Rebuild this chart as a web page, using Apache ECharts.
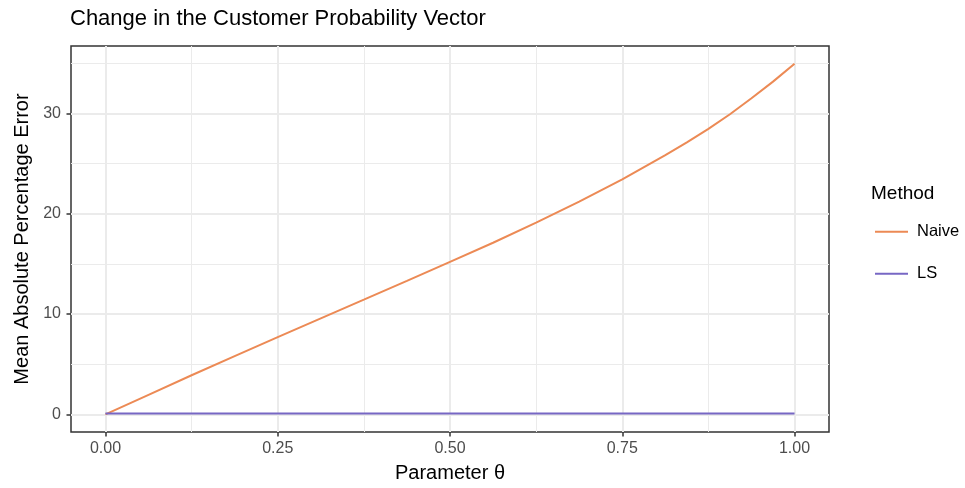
<!DOCTYPE html>
<html>
<head>
<meta charset="utf-8">
<script src="https://cdn.jsdelivr.net/npm/echarts@6/dist/echarts.min.js"></script>
<style>html,body{margin:0;padding:0;background:#fff}#c{width:965px;height:488px}</style>
</head>
<body>
<div id="c"></div>
<script>
const theta = [0, 0.0625, 0.125, 0.1875, 0.25, 0.3125, 0.375, 0.4375, 0.5, 0.5625, 0.625, 0.6875, 0.75, 0.8125, 0.84375, 0.875, 0.90625, 0.9375, 0.96875, 1.0];
const naive = [0, 1.95, 3.9, 5.8, 7.7, 9.57, 11.43, 13.3, 15.2, 17.1, 19.1, 21.2, 23.42, 25.82, 27.1, 28.44, 29.9, 31.5, 33.15, 34.94];
const ls = [0.1, 0.1, 0.1, 0.1, 0.1, 0.1, 0.1, 0.1, 0.1, 0.1, 0.1, 0.1, 0.1, 0.1, 0.1, 0.1, 0.1, 0.1, 0.1, 0.1];
const xTicks = [0, 0.25, 0.5, 0.75, 1.0];
const xMinor = [0.125, 0.375, 0.625, 0.875];
const yTicks = [0, 10, 20, 30];
const yMinor = [5, 15, 25, 35];
const seriesNames = ['Naive', 'LS'];
const colors = ['#EC8A55', '#7767C4'];

const FONT = 'Liberation Sans, Arial, sans-serif';
const xr = [-0.05, 1.05];
const yr = [-1.75, 36.7];

const chart = echarts.init(document.getElementById('c'), null, {renderer: 'canvas'});
const pair = (xs, ys) => xs.map((x, i) => [x, ys[i]]);

chart.setOption({
  backgroundColor: '#ffffff',
  animation: false,
  textStyle: {fontFamily: FONT},
  title: [
    {text: 'Change in the Customer Probability Vector', left: 70, top: 8, padding: 0,
     textStyle: {fontSize: 22, fontWeight: 'normal', color: '#000', fontFamily: FONT}},
    {text: 'Method', left: 871, top: 184.5, padding: 0,
     textStyle: {fontSize: 19, fontWeight: 'normal', color: '#000', fontFamily: FONT}}
  ],
  legend: {
    orient: 'vertical', left: 875, top: 223.2, padding: 0,
    icon: 'rect', itemWidth: 33, itemHeight: 2, itemGap: 25,
    data: seriesNames,
    textStyle: {fontSize: 16.5, color: '#000', fontFamily: FONT, padding: [0, 0, 0, 4]}
  },
  grid: {left: 71, right: 136, top: 46, bottom: 54, show: true,
         borderColor: '#333333', borderWidth: 1.5, backgroundColor: '#fff', containLabel: false},
  xAxis: [
    {type: 'value', min: xr[0], max: xr[1], position: 'top',
     axisLine: {show: false, onZero: false}, axisLabel: {show: false},
     axisTick: {show: false, customValues: xMinor},
     splitLine: {show: true, lineStyle: {color: '#EBEBEB', width: 1}}},
    {type: 'value', min: xr[0], max: xr[1], position: 'bottom',
     axisLine: {show: false, onZero: false},
     axisTick: {show: true, inside: false, length: 4.5, customValues: xTicks, lineStyle: {color: '#333', width: 1.5}},
     axisLabel: {customValues: xTicks, formatter: v => v.toFixed(2), margin: 9, fontSize: 16, color: '#4D4D4D', fontFamily: FONT},
     splitLine: {show: true, lineStyle: {color: '#EBEBEB', width: 2}},
     name: 'Parameter θ', nameLocation: 'middle', nameGap: 31,
     nameTextStyle: {fontSize: 20, color: '#000', fontFamily: FONT}}
  ],
  yAxis: [
    {type: 'value', min: yr[0], max: yr[1], position: 'right',
     axisLine: {show: false, onZero: false}, axisLabel: {show: false},
     axisTick: {show: false, customValues: yMinor},
     splitLine: {show: true, lineStyle: {color: '#EBEBEB', width: 1}}},
    {type: 'value', min: yr[0], max: yr[1], position: 'left',
     axisLine: {show: false, onZero: false},
     axisTick: {show: true, inside: false, length: 4.5, customValues: yTicks, lineStyle: {color: '#333', width: 1.5}},
     axisLabel: {customValues: yTicks, margin: 10, fontSize: 16, color: '#4D4D4D', fontFamily: FONT},
     splitLine: {show: true, lineStyle: {color: '#EBEBEB', width: 2}},
     name: 'Mean Absolute Percentage Error', nameLocation: 'middle', nameGap: 39,
     nameTextStyle: {fontSize: 20, color: '#000', fontFamily: FONT}}
  ],
  series: [
    {name: seriesNames[0], type: 'line', xAxisIndex: 1, yAxisIndex: 1, data: pair(theta, naive),
     smooth: false, symbol: 'none', color: colors[0], lineStyle: {color: colors[0], width: 2}},
    {name: seriesNames[1], type: 'line', xAxisIndex: 1, yAxisIndex: 1, data: pair(theta, ls),
     symbol: 'none', color: colors[1], lineStyle: {color: colors[1], width: 2}}
  ]
});
</script>
</body>
</html>
